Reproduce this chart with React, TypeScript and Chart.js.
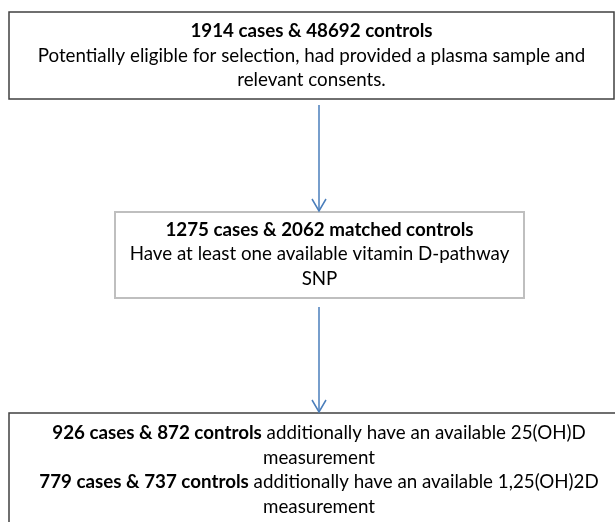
import React, { useEffect, useRef } from "react";
import { Chart, registerables } from "chart.js";

Chart.register(...registerables);

// ---- data ----
const cases = [1914, 1275, 926, 779];
const controls = [48692, 2062, 872, 737];
const stage1Notes = [
  "Potentially eligible for selection, had provided a plasma sample and",
  "relevant consents.",
];
const stage2Notes = ["Have at least one available vitamin D-pathway", "SNP"];
const stage3Notes = [
  "additionally have an available 25(OH)D",
  "measurement",
  "additionally have an available 1,25(OH)2D",
  "measurement",
];

type Run = { t: string; b?: boolean };

const box1Lines: Run[][] = [
  [{ t: `${cases[0]} cases & ${controls[0]} controls`, b: true }],
  [{ t: stage1Notes[0] }],
  [{ t: stage1Notes[1] }],
];
const box2Lines: Run[][] = [
  [{ t: `${cases[1]} cases & ${controls[1]} matched controls`, b: true }],
  [{ t: stage2Notes[0] }],
  [{ t: stage2Notes[1] }],
];
const box3Lines: Run[][] = [
  [{ t: `${cases[2]} cases & ${controls[2]} controls`, b: true }, { t: " " + stage3Notes[0] }],
  [{ t: stage3Notes[1] }],
  [{ t: `${cases[3]} cases & ${controls[3]} controls`, b: true }, { t: " " + stage3Notes[2] }],
  [{ t: stage3Notes[3] }],
];

// ---- layout (in chart value units = px of a 615x522 frame) ----
const FONT_FAMILY = "Lato, 'Open Sans', sans-serif";
const REF_LINE_WIDTH = 548; // width of the widest plain line in box 1
const LINE_H = 24.5;
const BOXES = [
  { x0: 9, x1: 614, y0: 12, y1: 99, stroke: "#404040", lw: 1.5, first: 31, lines: box1Lines },
  { x0: 115, x1: 524, y0: 212, y1: 298, stroke: "#bfbfbf", lw: 2, first: 229.5, lines: box2Lines },
  { x0: 9, x1: 618, y0: 413, y1: 540, stroke: "#404040", lw: 1.5, first: 433, lines: box3Lines },
];
const ARROWS = [
  { x: 319, y0: 105, y1: 211 },
  { x: 319, y0: 307, y1: 412 },
];
const ARROW_COLOR = "#4a7ebb";

const flowPlugin = {
  id: "flowchart",
  afterDraw(chart: any) {
    const { ctx } = chart;
    const xs = chart.scales.x;
    const ys = chart.scales.y;
    const px = (v: number) => xs.getPixelForValue(v);
    const py = (v: number) => ys.getPixelForValue(v);

    // fit font size
    ctx.save();
    ctx.font = `400 20px ${FONT_FAMILY}`;
    const w20 = ctx.measureText(stage1Notes[0]).width;
    const fs = (20 * (px(REF_LINE_WIDTH) - px(0))) / w20;
    ctx.restore();

    // boxes
    BOXES.forEach((bx) => {
      ctx.save();
      ctx.strokeStyle = bx.stroke;
      ctx.lineWidth = bx.lw;
      ctx.fillStyle = "#ffffff";
      const x0 = px(bx.x0), x1 = px(bx.x1), y0 = py(bx.y0), y1 = py(bx.y1);
      ctx.fillRect(x0, y0, x1 - x0, y1 - y0);
      ctx.strokeRect(x0, y0, x1 - x0, y1 - y0);
      ctx.restore();

      const cx = px((bx.x0 + Math.min(bx.x1, 629)) / 2 - (bx.x1 > 614 ? 0 : 0));
      const center = bx === BOXES[2] ? px(319) : px((bx.x0 + bx.x1) / 2);
      bx.lines.forEach((runs, i) => {
        const y = py(bx.first + i * LINE_H);
        ctx.save();
        ctx.fillStyle = "#000000";
        ctx.textBaseline = "middle";
        ctx.textAlign = "left";
        const widths = runs.map((r) => {
          ctx.font = `${r.b ? 700 : 400} ${fs}px ${FONT_FAMILY}`;
          return ctx.measureText(r.t).width;
        });
        const total = widths.reduce((a, b) => a + b, 0);
        let x = center - total / 2;
        runs.forEach((r, k) => {
          ctx.font = `${r.b ? 700 : 400} ${fs}px ${FONT_FAMILY}`;
          ctx.fillText(r.t, x, y);
          x += widths[k];
        });
        ctx.restore();
        void cx;
      });
    });

    // arrows
    ARROWS.forEach((a) => {
      const x = px(a.x), y0 = py(a.y0), y1 = py(a.y1);
      ctx.save();
      ctx.strokeStyle = ARROW_COLOR;
      ctx.lineWidth = 1.5;
      ctx.beginPath();
      ctx.moveTo(x, y0);
      ctx.lineTo(x, y1);
      ctx.stroke();
      ctx.beginPath();
      ctx.moveTo(x - 7, y1 - 12);
      ctx.lineTo(x, y1);
      ctx.lineTo(x + 7, y1 - 12);
      ctx.stroke();
      ctx.restore();
    });
  },
};

export default function App() {
  const ref = useRef<HTMLCanvasElement | null>(null);
  useEffect(() => {
    document.body.style.margin = "0";
    const canvas = ref.current;
    if (!canvas) return;
    const chart = new Chart(canvas, {
      type: "scatter",
      data: { datasets: [{ data: [], showLine: false }] },
      options: {
        animation: false,
        responsive: false,
        maintainAspectRatio: false,
        devicePixelRatio: 1,
        layout: { padding: 0 },
        plugins: { legend: { display: false }, tooltip: { enabled: false } },
        scales: {
          x: { type: "linear", min: 0, max: 615, display: false },
          y: { type: "linear", min: 0, max: 522, reverse: true, display: false },
        },
      },
      plugins: [flowPlugin],
    });
    return () => chart.destroy();
  }, []);
  return (
    <div style={{ width: 615, height: 522, background: "#fff" }}>
      <canvas ref={ref} width={615} height={522} style={{ display: "block" }} />
    </div>
  );
}
